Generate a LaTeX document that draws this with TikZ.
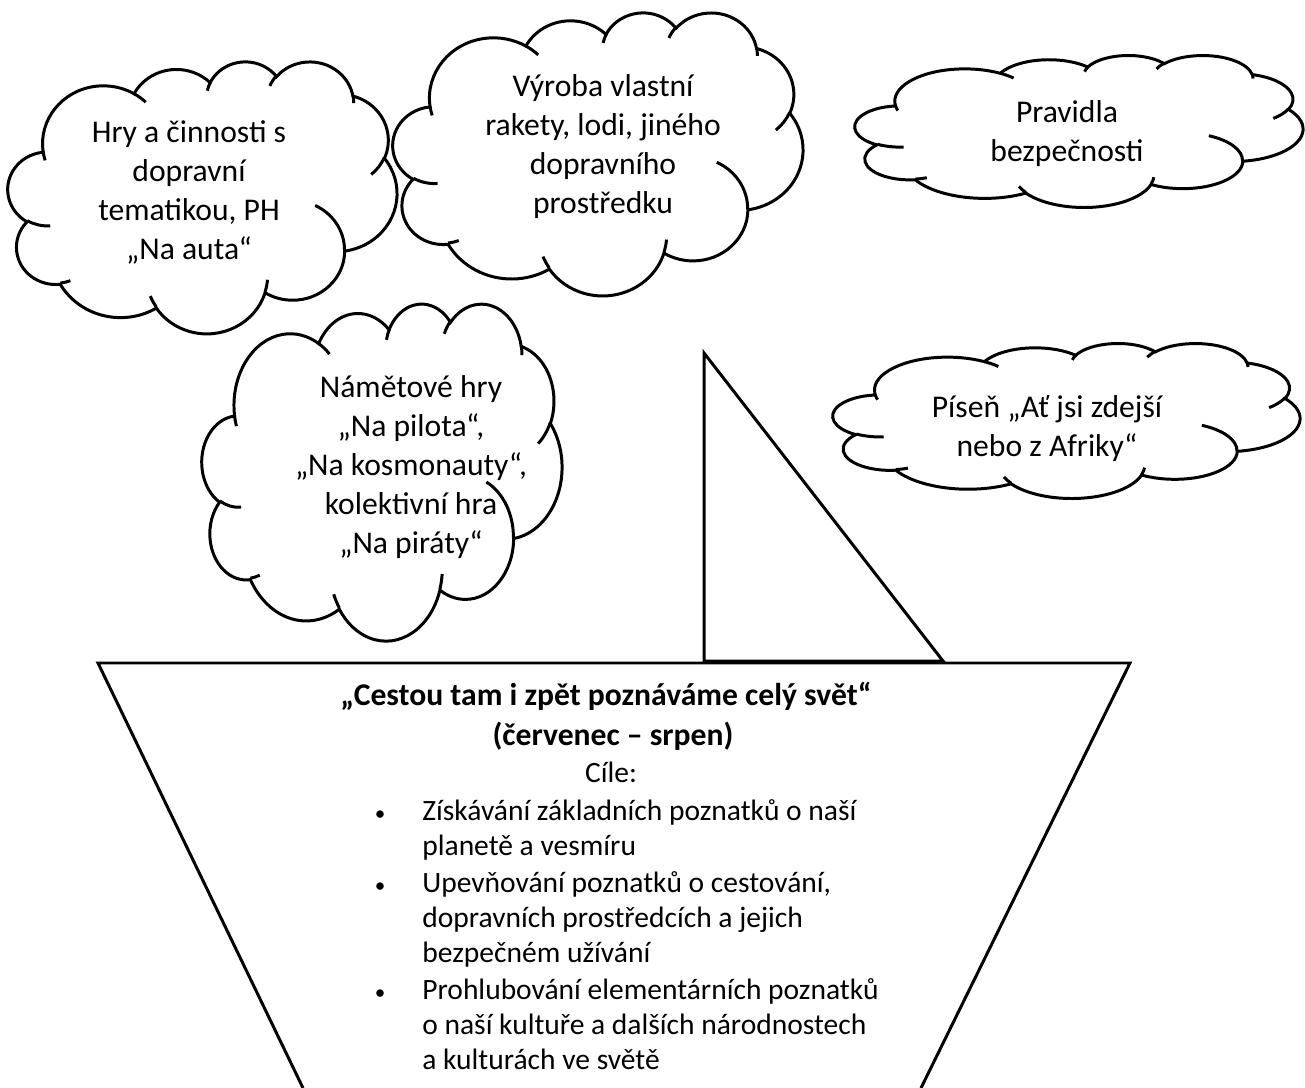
\documentclass[tikz,border=0pt]{standalone}
\usepackage{fontspec}
\setmainfont{Carlito}

% one arc of the cloud outline: x radius, y radius, start angle, sweep
% (angles are measured on the ellipse as seen from its centre)
\newcommand\cloudarc[4]{arc[x radius=#1, y radius=#2,
  start angle={atan2(#1*sin(#3),#2*cos(#3))},
  delta angle={mod(atan2(#1*sin(#3+#4),#2*cos(#3+#4))-atan2(#1*sin(#3),#2*cos(#3))+720,360)}]}

% cloud in a box: left, top, width, height (in pixels)
\newcommand\officecloud[4]{%
  \pgfmathsetmacro\cloudw{#3/2160}%
  \pgfmathsetmacro\cloudh{#4/2160}%
  \begin{scope}[shift={(#1,#2)}, x=\cloudw mm, y=-\cloudh mm]
    \draw[cloudline] (39,143.7)
      \cloudarc{67.53}{91.90}{-190.4875}{123.7805}
      \cloudarc{53.33}{72.67}{-144.1024}{89.9452}
      \cloudarc{43.65}{59.45}{-145.8079}{99.7230}
      \cloudarc{48.57}{65.95}{-130.9861}{117.2417}
      \cloudarc{53.33}{72.73}{-78.7089}{109.0269}
      \cloudarc{67.75}{92.20}{-46.2673}{130.2690}
      \cloudarc{57.85}{78.67}{0.6250}{114.0333}
      \cloudarc{67.52}{92.15}{22.4516}{115.1726}
      \cloudarc{77.20}{105.43}{66.2426}{75.7110}
      \cloudarc{43.60}{59.18}{-274.9421}{146.7356}
      \cloudarc{43.45}{59.45}{-246.8285}{152.5189} -- cycle;
    \draw[puffline]
      (46.93,261.77) \cloudarc{43.45}{59.45}{86.7420}{26.4295}
      (69.28,348.99) \cloudarc{43.60}{59.18}{73.6105}{11.4475}
      (164.78,390.90) \cloudarc{67.52}{92.15}{137.6242}{14.0811}
      (288.27,347.51) \cloudarc{67.52}{92.15}{6.4533}{15.9984}
      (341.29,229.54) \cloudarc{57.85}{78.67}{-70.2924}{70.9174}
      (417.98,153.54) \cloudarc{53.33}{72.73}{30.3180}{27.7515}
      (383.24,54.26) \cloudarc{48.57}{65.95}{-13.7443}{14.8589}
      (290.78,39.52) \cloudarc{48.57}{65.95}{-149.1815}{18.1954}
      (221.41,47.20) \cloudarc{43.65}{59.45}{-163.4943}{17.6864}
      (140.00,51.92) \cloudarc{67.53}{91.90}{-66.7070}{12.3194}
      (41.27,157.89) \cloudarc{67.53}{91.90}{157.6544}{11.8582};
  \end{scope}}

\tikzset{
  cloudline/.style={line width=1.7pt, fill=white},
  puffline/.style={line width=1.7pt},
  hull/.style={line width=1.7pt},
  cloudtext/.style={align=center, inner sep=0pt, font=\fontsize{18}{22.2}\selectfont},
  goaltext/.style={anchor=base west, inner sep=0pt, font=\fontsize{16.8}{20.5}\selectfont},
  headtext/.style={anchor=base, inner sep=0pt, font=\fontsize{18}{22}\selectfont\bfseries}
}

\begin{document}
\begin{tikzpicture}[x=0.02cm,y=-0.02cm]

\useasboundingbox (0,0) rectangle (1305,1088);

% CLOUDS

\officecloud{8}{61}{389}{272}
\officecloud{393}{12}{410}{283}
\officecloud{855}{55}{448}{152}
\officecloud{202}{303}{360}{337}
\officecloud{833}{343}{467}{155}

% BOAT

% Sail.
\coordinate (masttop) at (704,353);
\coordinate (mastfoot) at (704,661);
\coordinate (sailfoot) at (943,661);
\draw[hull] (masttop) -- (mastfoot) -- (sailfoot) -- cycle;

% Hull.
\coordinate (hullbl) at (303,1088);
\coordinate (hulltl) at (98,663);
\coordinate (hulltr) at (1130,663);
\coordinate (hullbr) at (921,1088);
\draw[hull] (hullbl) -- (hulltl) -- (hulltr) -- (hullbr);

% TEXTS

% Cloud texts.
\node[cloudtext] (games) at (189,192) {Hry a činnosti s\\dopravní\\tematikou, PH\\„Na auta“};
\node[cloudtext] (making) at (603,147) {Výroba vlastní\\rakety, lodi, jiného\\dopravního\\prostředku};
\node[cloudtext] (safety) at (1067,134) {Pravidla\\bezpečnosti};
\node[cloudtext] (roleplay) at (411,467) {Námětové hry\\„Na pilota“,\\„Na kosmonauty“,\\kolektivní hra\\„Na piráty“};
\node[cloudtext] (song) at (1047,429) {Píseň „Ať jsi zdejší\\nebo z Afriky“};

% Hull texts.
\node[headtext] (title) at (606,705) {„Cestou tam i zpět poznáváme celý svět“};
\node[headtext] (months) at (613,745) {(červenec – srpen)};
\node[goaltext,anchor=base] (aims) at (611,782) {Cíle:};

\foreach \yy [count=\i] in {820,892,999}
  \node[goaltext,anchor=base,font=\fontsize{12}{14}\selectfont] (dot\i) at (380,\yy) {•};

\foreach \yy/\txt [count=\i] in {820/Získávání základních poznatků o naší,
    855/planetě a vesmíru,
    892/{Upevňování poznatků o cestování,},
    927/dopravních prostředcích a jejich,
    962/bezpečném užívání,
    999/Prohlubování elementárních poznatků,
    1034/o naší kultuře a dalších národnostech,
    1069/a kulturách ve světě}
  \node[goaltext] (goal\i) at (422,\yy) {\txt};

\end{tikzpicture}
\end{document}
